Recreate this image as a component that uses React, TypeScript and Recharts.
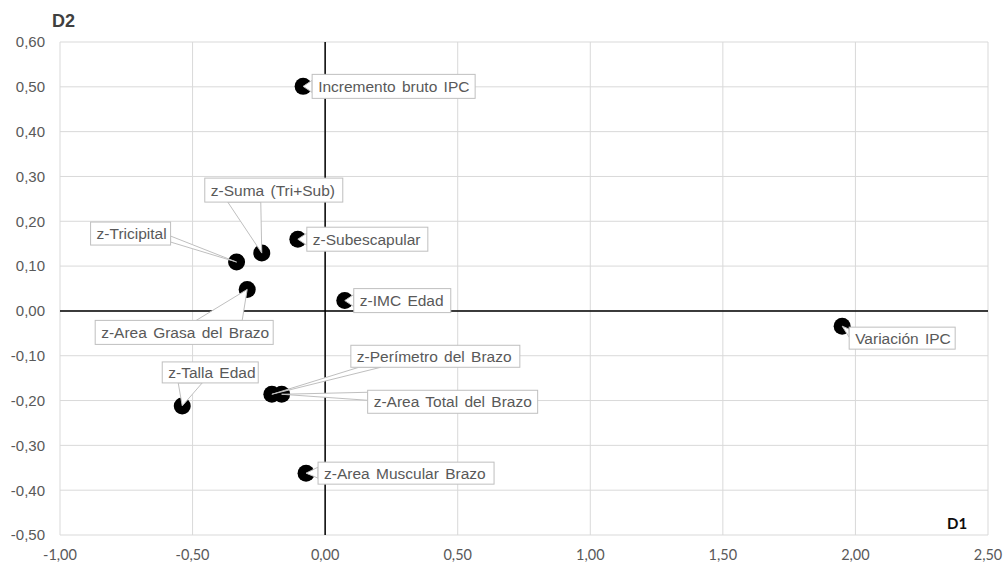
import { CartesianGrid, ReferenceLine, Scatter, ScatterChart, XAxis, YAxis } from "recharts";

// variables projected on the first two dimensions
const names = [
  "Incremento bruto IPC",
  "z-Suma (Tri+Sub)",
  "z-Subescapular",
  "z-Tricipital",
  "z-Area Grasa del Brazo",
  "z-IMC Edad",
  "Variación IPC",
  "z-Perímetro del Brazo",
  "z-Area Total del Brazo",
  "z-Talla Edad",
  "z-Area Muscular Brazo",
];
const d1 = [-0.083, -0.239, -0.103, -0.334, -0.294, 0.074, 1.95, -0.201, -0.164, -0.539, -0.072];
const d2 = [0.501, 0.129, 0.16, 0.109, 0.048, 0.023, -0.034, -0.186, -0.186, -0.212, -0.362];

const xTicks = [-1, -0.5, 0, 0.5, 1, 1.5, 2, 2.5];
const yTicks = [-0.5, -0.4, -0.3, -0.2, -0.1, 0, 0.1, 0.2, 0.3, 0.4, 0.5, 0.6];

// label boxes: offset from the marker, size, and which edge the callout leaves from
type Side = "l" | "r" | "t" | "b";
interface Box {
  dx: number;
  dy: number;
  w: number;
  h: number;
  side: Side;
  a: number;
  b: number;
}
const boxes: Box[] = [
  { dx: 9, dy: -12, w: 163, h: 24, side: "l", a: 6, b: 18 },
  { dx: -57, dy: -75, w: 138, h: 24, side: "b", a: 23, b: 56 },
  { dx: 9, dy: -12, w: 121, h: 24, side: "l", a: 6, b: 18 },
  { dx: -146, dy: -40, w: 80, h: 23, side: "r", a: 14, b: 20 },
  { dx: -152, dy: 31, w: 178, h: 24, side: "t", a: 101, b: 147 },
  { dx: 9, dy: -12, w: 97, h: 24, side: "l", a: 6, b: 18 },
  { dx: 7, dy: 1, w: 106, h: 22, side: "l", a: 2, b: 10 },
  { dx: 79, dy: -49, w: 169, h: 22, side: "b", a: 8, b: 30 },
  { dx: 86, dy: -4, w: 170, h: 23, side: "l", a: 2, b: 10 },
  { dx: -20, dy: -44, w: 96, h: 21, side: "b", a: 16, b: 40 },
  { dx: 12, dy: -11, w: 176, h: 22, side: "l", a: 5, b: 16 },
];

const rows = names.map((name, i) => ({ name, d1: d1[i], d2: d2[i], idx: i }));

const fmt = (v: number) => v.toFixed(2).replace(".", ",");

function Marker(props: any) {
  const { cx, cy } = props;
  return <circle cx={cx} cy={cy} r={8.5} fill="#000" />;
}

function Callout(props: any) {
  const { cx, cy, payload } = props;
  const bx = boxes[payload.idx];
  const x = cx + bx.dx;
  const y = cy + bx.dy;
  let p1: [number, number];
  let p2: [number, number];
  if (bx.side === "l") {
    p1 = [x, y + bx.a];
    p2 = [x, y + bx.b];
  } else if (bx.side === "r") {
    p1 = [x + bx.w, y + bx.a];
    p2 = [x + bx.w, y + bx.b];
  } else if (bx.side === "t") {
    p1 = [x + bx.a, y];
    p2 = [x + bx.b, y];
  } else {
    p1 = [x + bx.a, y + bx.h];
    p2 = [x + bx.b, y + bx.h];
  }
  return (
    <g>
      <polygon
        points={`${p1[0]},${p1[1]} ${cx},${cy} ${p2[0]},${p2[1]}`}
        fill="#fff"
        stroke="#bfbfbf"
        strokeWidth={1}
      />
      <rect x={x} y={y} width={bx.w} height={bx.h} fill="#fff" stroke="#bfbfbf" strokeWidth={1} />
      <text
        x={x + 6}
        y={y + bx.h / 2 + 5.5}
        fontSize={15.5}
        wordSpacing={2}
        fill="#595959"
        fontFamily="'Liberation Sans', Arial, sans-serif"
      >
        {payload.name}
      </text>
    </g>
  );
}

export default function App() {
  return (
    <div style={{ position: "absolute", left: 0, top: 0, width: 1005, height: 563, background: "#fff" }}>
      <ScatterChart width={1005} height={563} margin={{ top: 42, right: 17, bottom: 0, left: 0 }}>
        <CartesianGrid stroke="#d9d9d9" strokeWidth={1} />
        <XAxis
          type="number"
          dataKey="d1"
          domain={[-1, 2.5]}
          ticks={xTicks}
          tickFormatter={fmt}
          axisLine={false}
          tickLine={false}
          tickSize={0}
          tickMargin={15}
          height={28}
          interval={0}
          tick={{ fontSize: 14.5, fill: "#595959", fontFamily: "Lato, sans-serif" }}
        />
        <YAxis
          type="number"
          dataKey="d2"
          domain={[-0.5, 0.6]}
          ticks={yTicks}
          tickFormatter={fmt}
          axisLine={false}
          tickLine={false}
          tickSize={0}
          tickMargin={15}
          width={60}
          interval={0}
          tick={{ fontSize: 15, fill: "#595959", fontFamily: "'Liberation Sans', Arial, sans-serif" }}
        />
        <ReferenceLine x={0} stroke="#000" strokeWidth={1.5} />
        <ReferenceLine y={0} stroke="#000" strokeWidth={1.5} />
        <Scatter data={rows} shape={Marker} isAnimationActive={false} />
        <Scatter data={rows} shape={Callout} isAnimationActive={false} />
      </ScatterChart>
      <svg
        width={1005}
        height={563}
        style={{ position: "absolute", left: 0, top: 0, pointerEvents: "none" }}
      >
        <text x={52} y={27} fontSize={18} fontWeight="bold" fill="#404040" fontFamily="'Liberation Sans', Arial, sans-serif">
          D2
        </text>
        <text x={947} y={529} fontSize={15} fontWeight="bold" fill="#0d0d0d" fontFamily="Lato, sans-serif">
          D1
        </text>
      </svg>
    </div>
  );
}
